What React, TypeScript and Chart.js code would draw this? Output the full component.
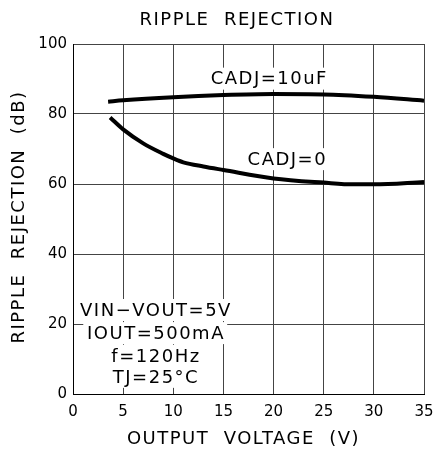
import React, { useEffect, useRef } from "react";
import { Chart, registerables } from "chart.js";

Chart.register(...registerables);

const chartTitle = "RIPPLE  REJECTION";
const xTitle = "OUTPUT  VOLTAGE  (V)";
const yTitle = "RIPPLE  REJECTION  (dB)";

const cadj10X = [3.5, 5, 10, 15, 20, 25, 30, 35];
const cadj10Y = [83.5, 83.9, 84.8, 85.4, 85.7, 85.6, 84.9, 83.8];

const cadj0X = [3.7, 5, 7, 9, 10, 11, 13, 15, 20, 25, 28, 30, 35];
const cadj0Y = [79.0, 75.6, 71.6, 68.6, 67.3, 66.2, 65.0, 64.0, 61.6, 60.4, 59.9, 59.9, 60.6];

const xTicks = [0, 5, 10, 15, 20, 25, 30, 35];
const yTicks = [0, 20, 40, 60, 80, 100];

const conditionLines = ["VIN−VOUT=5V", "IOUT=500mA", "f=120Hz", "TJ=25°C"];
const curveLabels = ["CADJ=10uF", "CADJ=0"];

const FONT = "'DejaVu Sans', sans-serif";

export default function App() {
  const ref = useRef<HTMLCanvasElement | null>(null);

  useEffect(() => {
    document.body.style.margin = "0";
    const canvas = ref.current;
    if (!canvas) return;

    const textPlugin = {
      id: "textPlugin",
      beforeDatasetsDraw(chart: any) {
        const ctx = chart.ctx as CanvasRenderingContext2D;
        const xs = chart.scales.x;
        const ys = chart.scales.y;
        const label = (t: string, xv: number, yv: number) => {
          const px = xs.getPixelForValue(xv);
          const py = ys.getPixelForValue(yv);
          ctx.save();
          ctx.font = `18px ${FONT}`;
          (ctx as any).letterSpacing = "1.5px";
          const w = ctx.measureText(t).width;
          ctx.fillStyle = "#fff";
          ctx.fillRect(px - w / 2 - 3, py - 11, w + 6, 22);
          ctx.fillStyle = "#000";
          ctx.textAlign = "center";
          ctx.textBaseline = "middle";
          ctx.fillText(t, px + 0.75, py + 1);
          ctx.restore();
        };
        label(curveLabels[0], 19.5, 90.1);
        label(curveLabels[1], 21.3, 67.1);
        const condY = [24, 17.4, 10.9, 4.9];
        conditionLines.forEach((t, i) => label(t, 8.2, condY[i]));
      },
      afterDraw(chart: any) {
        const ctx = chart.ctx as CanvasRenderingContext2D;
        const area = chart.chartArea;
        ctx.save();
        ctx.fillStyle = "#000";
        ctx.textAlign = "center";
        ctx.textBaseline = "middle";
        ctx.font = `18px ${FONT}`;
        (ctx as any).letterSpacing = "1.5px";
        ctx.fillText(chartTitle, 237, 20);
        ctx.fillText(xTitle, (area.left + area.right) / 2 - 5, 439);
        ctx.translate(19, (area.top + area.bottom) / 2 - 2);
        ctx.rotate(-Math.PI / 2);
        ctx.fillText(yTitle, 0, 0);
        ctx.restore();
      },
    };

    const chart = new Chart(canvas, {
      type: "line",
      data: {
        datasets: [
          {
            label: curveLabels[0],
            data: cadj10X.map((x, i) => ({ x, y: cadj10Y[i] })),
            borderColor: "#000",
            borderWidth: 4,
            pointRadius: 0,
            cubicInterpolationMode: "monotone",
          },
          {
            label: curveLabels[1],
            data: cadj0X.map((x, i) => ({ x, y: cadj0Y[i] })),
            borderColor: "#000",
            borderWidth: 4,
            pointRadius: 0,
            cubicInterpolationMode: "monotone",
          },
        ],
      },
      options: {
        responsive: false,
        animation: false,
        layout: { padding: { left: 0, top: 44, right: 13, bottom: 0 } },
        plugins: {
          legend: { display: false },
          tooltip: { enabled: false },
          title: { display: false },
        },
        scales: {
          x: {
            type: "linear",
            min: 0,
            max: 35,
            afterBuildTicks: (s: any) => {
              s.ticks = xTicks.map((v) => ({ value: v }));
            },
            afterFit: (s: any) => {
              s.height = 58;
              s.paddingLeft = 0;
              s.paddingRight = 0;
            },
            grid: { color: "#444", lineWidth: 1, drawTicks: false },
            border: { color: "#000", width: 1 },
            ticks: {
              color: "#000",
              padding: 9,
              font: { family: FONT, size: 15 },
              maxRotation: 0,
            },
          },
          y: {
            type: "linear",
            min: 0,
            max: 100,
            afterBuildTicks: (s: any) => {
              s.ticks = yTicks.map((v) => ({ value: v }));
            },
            afterFit: (s: any) => {
              s.width = 73;
              s.paddingTop = 0;
              s.paddingBottom = 0;
            },
            grid: { color: "#444", lineWidth: 1, drawTicks: false },
            border: { color: "#000", width: 1 },
            ticks: {
              color: "#000",
              padding: 6,
              font: { family: FONT, size: 15 },
            },
          },
        },
      },
      plugins: [textPlugin],
    } as any);

    return () => chart.destroy();
  }, []);

  return (
    <div style={{ position: "relative", width: 437, height: 452 }}>
      <canvas ref={ref} width={437} height={452} />
    </div>
  );
}
